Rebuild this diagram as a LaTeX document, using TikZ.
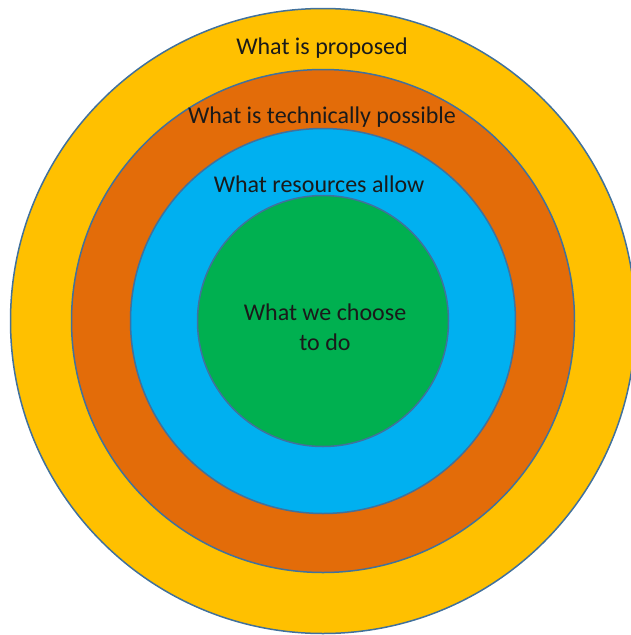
\documentclass[tikz,border=0pt]{standalone}
\usepackage{fontspec}
\setmainfont{Carlito}
\definecolor{ringyellow}{HTML}{FFC000}
\definecolor{ringorange}{HTML}{E36C09}
\definecolor{ringblue}{HTML}{00B0F0}
\definecolor{ringgreen}{HTML}{00B050}
\definecolor{ringline}{HTML}{41719C}
\definecolor{lbltext}{HTML}{1A1A1A}
\begin{document}
\begin{tikzpicture}[x=1pt,y=-1pt,
  ring/.style={draw=ringline,line width=1.5pt},
  lbl/.style={font=\fontsize{24}{30}\selectfont,text=lbltext,inner sep=0pt,align=center}]
\useasboundingbox (0,0) rectangle (631,635);
\begin{scope}
\clip (0,0) rectangle (631,635);
\coordinate (c) at (323,321);
\fill[ringyellow] (c) circle (312.5);
\draw[ring] (c) circle (312.5);
\fill[ringorange] (c) circle (251.5);
\draw[ring] (c) circle (251.5);
\fill[ringblue] (c) circle (192.5);
\draw[ring] (c) circle (192.5);
\fill[ringgreen] (c) circle (125.5);
\draw[ring] (c) circle (125.5);
\end{scope}
\node[lbl] (proposed) at (322,48) {What is proposed};
\node[lbl] (technical) at (322,117) {What is technically possible};
\node[lbl] (resources) at (319,184) {What resources allow};
\node[lbl] (choose) at (325,327) {What we choose\\to do};
\end{tikzpicture}
\end{document}
